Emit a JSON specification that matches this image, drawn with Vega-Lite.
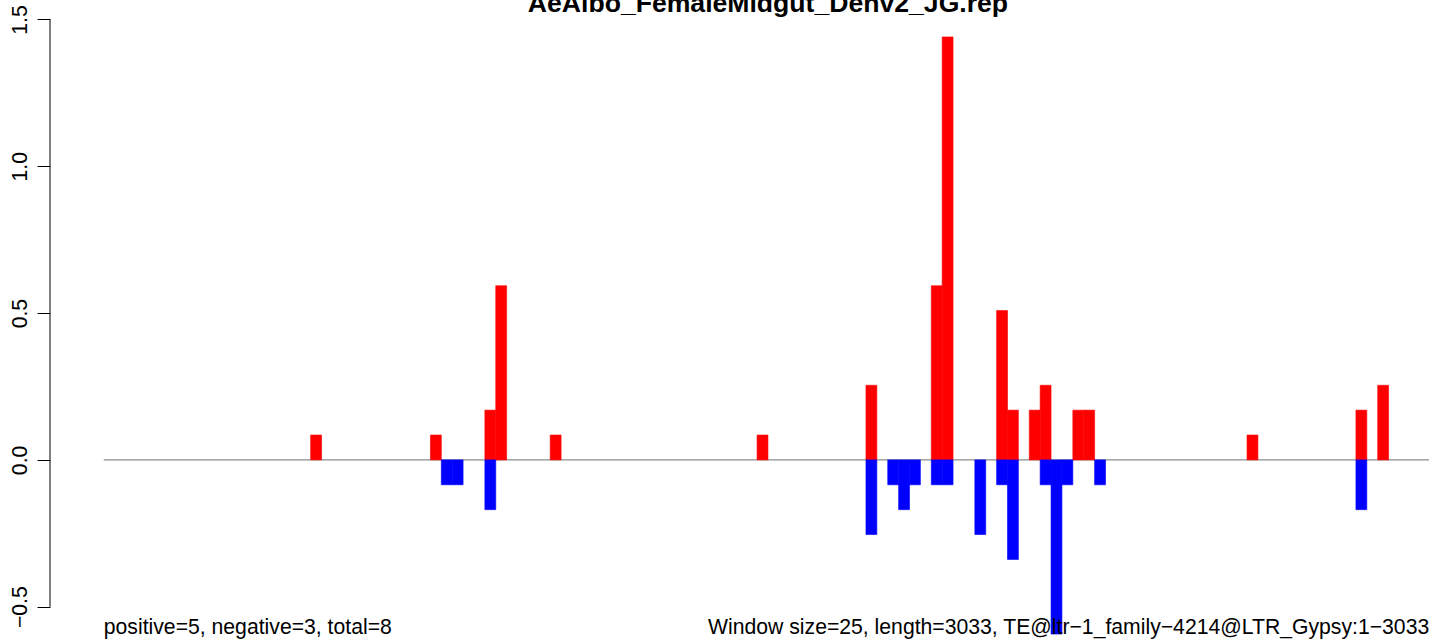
{
  "$schema": "https://vega.github.io/schema/vega-lite/v6.json",
  "autosize": {"type": "none"},
  "width": 1379,
  "height": 641,
  "padding": {"left": 50, "top": 0, "right": 0, "bottom": 0},
  "background": "white",
  "config": {"view": {"stroke": null}},
  "data": {"values": [{}]},
  "layer": [
    {
      "mark": {"type": "rule", "color": "#707070", "strokeWidth": 1, "clip": true},
      "encoding": {
        "x": {"datum": 0, "type": "quantitative", "scale": {"domain": [-123.5, 3042.8], "nice": false, "zero": false}, "axis": null},
        "x2": {"datum": 3060},
        "y": {"datum": 0, "type": "quantitative", "scale": {"domain": [-0.6168, 1.5664], "nice": false, "zero": false},
          "axis": {"values": [-0.5, 0, 0.5, 1, 1.5], "format": ".1f", "title": null, "domain": false, "grid": false,
            "ticks": true, "tickSize": 13, "tickWidth": 1, "tickColor": "black",
            "labelAngle": 270, "labelAlign": "center", "labelBaseline": "alphabetic", "labelPadding": 11,
            "labelFont": "Liberation Sans", "labelFontSize": 21.2, "labelColor": "black", "labelOverlap": false, "labelBound": false, "labelFlush": false}}
      }
    },
    {
      "data": {"values": [
        {"start": 475, "end": 500, "value": 0.0847, "strand": "pos"},
        {"start": 750, "end": 775, "value": 0.0847, "strand": "pos"},
        {"start": 875, "end": 900, "value": 0.1695, "strand": "pos"},
        {"start": 900, "end": 925, "value": 0.5932, "strand": "pos"},
        {"start": 1025, "end": 1050, "value": 0.0847, "strand": "pos"},
        {"start": 1500, "end": 1525, "value": 0.0847, "strand": "pos"},
        {"start": 1750, "end": 1775, "value": 0.2542, "strand": "pos"},
        {"start": 1900, "end": 1925, "value": 0.5932, "strand": "pos"},
        {"start": 1925, "end": 1950, "value": 1.4407, "strand": "pos"},
        {"start": 2050, "end": 2075, "value": 0.5085, "strand": "pos"},
        {"start": 2075, "end": 2100, "value": 0.1695, "strand": "pos"},
        {"start": 2125, "end": 2150, "value": 0.1695, "strand": "pos"},
        {"start": 2150, "end": 2175, "value": 0.2542, "strand": "pos"},
        {"start": 2225, "end": 2250, "value": 0.1695, "strand": "pos"},
        {"start": 2250, "end": 2275, "value": 0.1695, "strand": "pos"},
        {"start": 2625, "end": 2650, "value": 0.0847, "strand": "pos"},
        {"start": 2875, "end": 2900, "value": 0.1695, "strand": "pos"},
        {"start": 2925, "end": 2950, "value": 0.2542, "strand": "pos"},
        {"start": 775, "end": 800, "value": -0.0847, "strand": "neg"},
        {"start": 800, "end": 825, "value": -0.0847, "strand": "neg"},
        {"start": 875, "end": 900, "value": -0.1695, "strand": "neg"},
        {"start": 1750, "end": 1775, "value": -0.2542, "strand": "neg"},
        {"start": 1800, "end": 1825, "value": -0.0847, "strand": "neg"},
        {"start": 1825, "end": 1850, "value": -0.1695, "strand": "neg"},
        {"start": 1850, "end": 1875, "value": -0.0847, "strand": "neg"},
        {"start": 1900, "end": 1925, "value": -0.0847, "strand": "neg"},
        {"start": 1925, "end": 1950, "value": -0.0847, "strand": "neg"},
        {"start": 2000, "end": 2025, "value": -0.2542, "strand": "neg"},
        {"start": 2050, "end": 2075, "value": -0.0847, "strand": "neg"},
        {"start": 2075, "end": 2100, "value": -0.339, "strand": "neg"},
        {"start": 2150, "end": 2175, "value": -0.0847, "strand": "neg"},
        {"start": 2175, "end": 2200, "value": -0.5932, "strand": "neg"},
        {"start": 2200, "end": 2225, "value": -0.0847, "strand": "neg"},
        {"start": 2275, "end": 2300, "value": -0.0847, "strand": "neg"},
        {"start": 2875, "end": 2900, "value": -0.1695, "strand": "neg"}
      ]},
      "mark": {"type": "rect", "clip": true, "strokeWidth": 0.6},
      "encoding": {
        "x": {"field": "start", "type": "quantitative"},
        "x2": {"field": "end"},
        "y": {"field": "value", "type": "quantitative"},
        "y2": {"datum": 0},
        "color": {"field": "strand", "type": "nominal", "scale": {"domain": ["pos", "neg"], "range": ["#FF0000", "#0000FF"]}, "legend": null},
        "stroke": {"field": "strand", "type": "nominal", "scale": {"domain": ["pos", "neg"], "range": ["#FF0000", "#0000FF"]}, "legend": null}
      }
    },
    {
      "mark": {"type": "rule", "color": "black", "strokeWidth": 1},
      "encoding": {
        "x": {"datum": -123.5, "type": "quantitative"},
        "y": {"datum": -0.5, "type": "quantitative"},
        "y2": {"datum": 1.5}
      }
    },
    {
      "mark": {"type": "text", "text": "AeAlbo_FemaleMidgut_Denv2_JG.rep", "font": "Liberation Sans", "fontSize": 26.6, "fontWeight": "bold", "align": "center", "baseline": "alphabetic", "color": "black"},
      "encoding": {
        "x": {"datum": 1525, "type": "quantitative"},
        "y": {"datum": 1.5242, "type": "quantitative"}
      }
    },
    {
      "mark": {"type": "text", "text": "positive=5, negative=3, total=8", "font": "Liberation Sans", "fontSize": 21.2, "align": "left", "baseline": "alphabetic", "color": "black"},
      "encoding": {
        "x": {"datum": 0, "type": "quantitative"},
        "y": {"datum": -0.5926, "type": "quantitative"}
      }
    },
    {
      "mark": {"type": "text", "text": "Window size=25, length=3033, TE@ltr−1_family−4214@LTR_Gypsy:1−3033", "font": "Liberation Sans", "fontSize": 21.2, "align": "left", "baseline": "alphabetic", "color": "black"},
      "encoding": {
        "x": {"datum": 1387.3, "type": "quantitative"},
        "y": {"datum": -0.5926, "type": "quantitative"}
      }
    }
  ]
}
